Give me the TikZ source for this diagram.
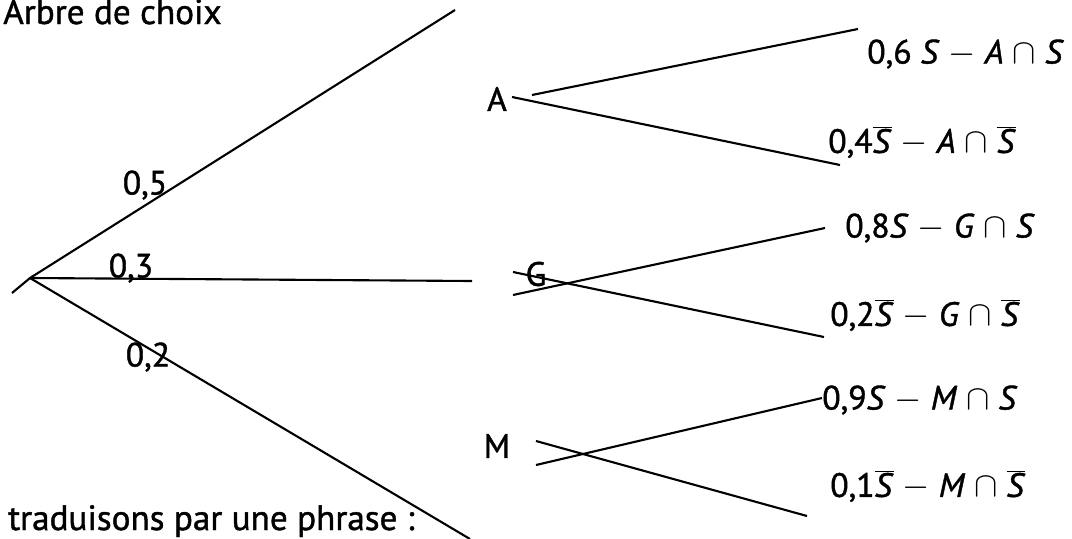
\documentclass[tikz,border=0pt]{standalone}
\usepackage{fontspec}
\setmainfont{PT Sans}[FakeBold=1.2]
\usepackage{tikz}
\usetikzlibrary{positioning}
\tikzstyle{line} = [draw, line width=1.5pt]
\tikzstyle{ev} = [inner sep=1pt, font=\fontsize{24}{28}\selectfont]
\tikzstyle{prob} = [inner sep=1pt, font=\fontsize{24}{28}\selectfont]
\tikzstyle{leaf} = [anchor=west, inner sep=0pt, font=\fontsize{24}{28}\selectfont]
\tikzstyle{txt} = [anchor=base west, inner sep=0pt, font=\fontsize{25}{30}\selectfont]
\newcommand{\Sbarre}{$\overline{\mbox{\textit{S}}}$}

\begin{document}
\begin{tikzpicture}[x=0.025cm,y=-0.025cm]
\useasboundingbox (0,0) rectangle (1072,539);
\node (title) [txt] at (3,24) {Arbre de choix};
\node (phrase) [txt] at (8,530) {traduisons par une phrase :};

% premier niveau
\coordinate (root) at (30,278);
\coordinate (tail) at (12,293);
\coordinate (endA) at (455,10);
\coordinate (endG) at (472,281);
\coordinate (endM) at (470,539);
\draw [line] (tail) -- (root) -- (endA);
\draw [line] (root) -- (endG);
\draw [line] (root) -- (endM);
\node (p5) [prob] at (145,185) {0,5};
\node (p3) [prob] at (131,268) {0,3};
\node (p2) [prob] at (148,357) {0,2};

\node (A) [ev] at (497,99) {A};
\node (G) [ev] at (536,274) {G};
\node (M) [ev] at (497,446) {M};

% second niveau
\coordinate (A_in1) at (532,95);
\coordinate (A_in2) at (512,97);
\coordinate (A_S) at (858,29);
\coordinate (A_nS) at (840,165);
\coordinate (G_in1) at (513,272);
\coordinate (G_in2) at (513,295);
\coordinate (G_S) at (825,228);
\coordinate (G_nS) at (824,337);
\coordinate (M_in1) at (536,441);
\coordinate (M_in2) at (536,465);
\coordinate (M_S) at (822,398);
\coordinate (M_nS) at (807,516);
\draw [line] (A_in1) -- (A_S);
\draw [line] (A_in2) -- (A_nS);
\draw [line] (G_in1) -- (G_nS);
\draw [line] (G_in2) -- (G_S);
\draw [line] (M_in1) -- (M_nS);
\draw [line] (M_in2) -- (M_S);

\node (AS) [leaf] at (867,54) {0,6 \textit{S} $-$ \textit{A} $\cap$ \textit{S}};
\node (AnS) [leaf] at (828,142) {0,4\Sbarre{} $-$ \textit{A} $\cap$ \Sbarre};
\node (GS) [leaf] at (845,228) {0,8\textit{S} $-$ \textit{G} $\cap$ \textit{S}};
\node (GnS) [leaf] at (830,315) {0,2\Sbarre{} $-$ \textit{G} $\cap$ \Sbarre};
\node (MS) [leaf] at (822,400) {0,9\textit{S} $-$ \textit{M} $\cap$ \textit{S}};
\node (MnS) [leaf] at (830,486) {0,1\Sbarre{} $-$ \textit{M} $\cap$ \Sbarre};
\end{tikzpicture}
\end{document}
